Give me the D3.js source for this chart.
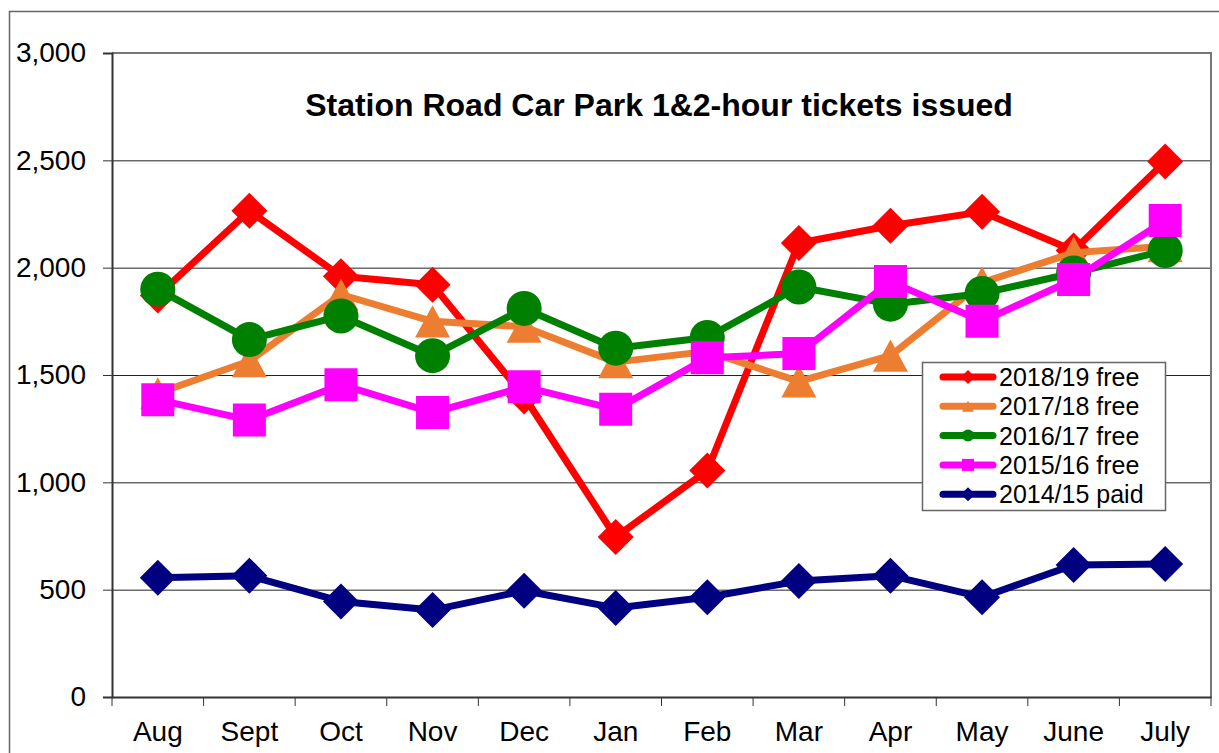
<!DOCTYPE html>
<html>
<head>
<meta charset="utf-8">
<script src="https://cdn.jsdelivr.net/npm/d3@7"></script>
<style>
  body { margin: 0; background: #fff; }
  text { font-family: "Liberation Sans", Arial, sans-serif; fill: #000; }
</style>
</head>
<body>
<script>
// Station Road car park, tickets per month
const months = ["Aug", "Sept", "Oct", "Nov", "Dec", "Jan", "Feb", "Mar", "Apr", "May", "June", "July"];
const yTicks = [0, 500, 1000, 1500, 2000, 2500, 3000];

const free1819 = [1870, 2265, 1960, 1920, 1400, 745, 1055, 2115, 2195, 2260, 2080, 2495];
const free1718 = [1415, 1565, 1875, 1750, 1725, 1560, 1610, 1470, 1590, 1930, 2070, 2100];
const free1617 = [1900, 1665, 1775, 1590, 1810, 1625, 1675, 1910, 1830, 1880, 1975, 2080];
const free1516 = [1385, 1290, 1455, 1325, 1445, 1340, 1580, 1600, 1935, 1750, 1945, 2220];
const paid1415 = [555, 565, 445, 405, 495, 415, 465, 540, 565, 465, 615, 620];

const series = [
  { name: "2018/19 free", values: free1819, color: "#ff0000", shape: "diamond" },
  { name: "2017/18 free", values: free1718, color: "#ed7d31", shape: "triangle" },
  { name: "2016/17 free", values: free1617, color: "#008000", shape: "circle" },
  { name: "2015/16 free", values: free1516, color: "#ff00ff", shape: "square" },
  { name: "2014/15 paid", values: paid1415, color: "#000080", shape: "diamond" }
];

const W = 1219, H = 753;
const plotL = 112, plotR = 1211, plotT = 53, plotB = 697;

const svg = d3.select("body").append("svg")
    .attr("width", W)
    .attr("height", H);

// outer chart frame
svg.append("rect")
    .attr("x", 9.5).attr("y", 11.5)
    .attr("width", 1240).attr("height", 800)
    .attr("fill", "none")
    .attr("stroke", "#666")
    .attr("stroke-width", 1.5);

const x = d3.scaleBand().domain(months).range([plotL, plotR]).padding(0);
const y = d3.scaleLinear().domain([0, 3000]).range([plotB, plotT]);
const cx = d => x(d) + x.bandwidth() / 2;

// gridlines
svg.append("g")
    .attr("transform", `translate(${plotL},0)`)
    .call(d3.axisLeft(y).tickValues(yTicks.slice(1, -1)).tickSize(-(plotR - plotL)).tickFormat(""))
    .call(g => g.select(".domain").remove())
    .call(g => g.selectAll("line").attr("stroke", "#222").attr("stroke-width", 1));

// plot border top / right
svg.append("path")
    .attr("d", `M${plotL},${y(3000)}H${plotR}V${plotB}`)
    .attr("fill", "none")
    .attr("stroke", "#777")
    .attr("stroke-width", 2);

// y axis
svg.append("g")
    .attr("transform", `translate(${plotL},0)`)
    .call(d3.axisLeft(y).tickValues(yTicks).tickSize(9).tickPadding(17).tickFormat(d3.format(",")))
    .call(g => g.select(".domain").attr("stroke", "#333").attr("stroke-width", 2))
    .call(g => g.selectAll("line").attr("stroke", "#333"))
    .call(g => g.selectAll("text").attr("font-size", 28).attr("font-family", "Liberation Sans, Arial"));

// x axis
const xAxis = svg.append("g")
    .attr("transform", `translate(0,${plotB})`)
    .call(d3.axisBottom(x).tickSize(0).tickPadding(24))
    .call(g => g.select(".domain").attr("stroke", "#333").attr("stroke-width", 2))
    .call(g => g.selectAll("text").attr("font-size", 28).attr("font-family", "Liberation Sans, Arial"));

xAxis.selectAll(".bound")
    .data(d3.range(months.length + 1))
    .enter().append("line")
    .attr("class", "bound")
    .attr("x1", i => plotL + i * x.bandwidth())
    .attr("x2", i => plotL + i * x.bandwidth())
    .attr("y1", 0).attr("y2", 9)
    .attr("stroke", "#333");

// markers
function markerPath(shape, s) {
  if (shape === "diamond") return `M0,${-s}L${s},0L0,${s}L${-s},0Z`;
  if (shape === "square") return `M${-s},${-s}H${s}V${s}H${-s}Z`;
  if (shape === "triangle") return `M0,${-s * 0.92}L${s},${s * 0.92}L${-s},${s * 0.92}Z`;
  return null;
}

function drawMarker(g, shape, color, px, py, s) {
  if (shape === "circle") {
    g.append("circle").attr("cx", px).attr("cy", py).attr("r", s).attr("fill", color);
  } else {
    g.append("path").attr("d", markerPath(shape, s))
      .attr("transform", `translate(${px},${py})`)
      .attr("fill", color);
  }
}

const sizes = { diamond: 18, square: 16.5, triangle: 17.5, circle: 17.5 };

const line = d3.line()
    .x((d, i) => cx(months[i]))
    .y(d => y(d));

series.forEach(s => {
  const g = svg.append("g");
  g.append("path")
    .datum(s.values)
    .attr("d", line)
    .attr("fill", "none")
    .attr("stroke", s.color)
    .attr("stroke-width", 7)
    .attr("stroke-linejoin", "round");
  s.values.forEach((v, i) => drawMarker(g, s.shape, s.color, cx(months[i]), y(v), sizes[s.shape]));
});

// title
svg.append("text")
    .attr("x", 659)
    .attr("y", 116)
    .attr("text-anchor", "middle")
    .attr("font-size", 32)
    .attr("font-weight", "bold")
    .text("Station Road Car Park 1&2-hour tickets issued");

// legend
const legend = svg.append("g");
legend.append("rect")
    .attr("x", 922.5).attr("y", 362.5)
    .attr("width", 243).attr("height", 148)
    .attr("fill", "#fff")
    .attr("stroke", "#666")
    .attr("stroke-width", 1.5);

const small = { diamond: 7, square: 6, triangle: 6, circle: 6 };
series.forEach((s, i) => {
  const ly = 377 + i * 29.3;
  legend.append("line")
    .attr("x1", 943).attr("x2", 993)
    .attr("y1", ly).attr("y2", ly)
    .attr("stroke", s.color)
    .attr("stroke-width", 7)
    .attr("stroke-linecap", "round");
  drawMarker(legend, s.shape, s.color, 968, ly, small[s.shape]);
  legend.append("text")
    .attr("x", 999)
    .attr("y", ly + 9)
    .attr("font-size", 25)
    .text(s.name);
});
</script>
</body>
</html>
